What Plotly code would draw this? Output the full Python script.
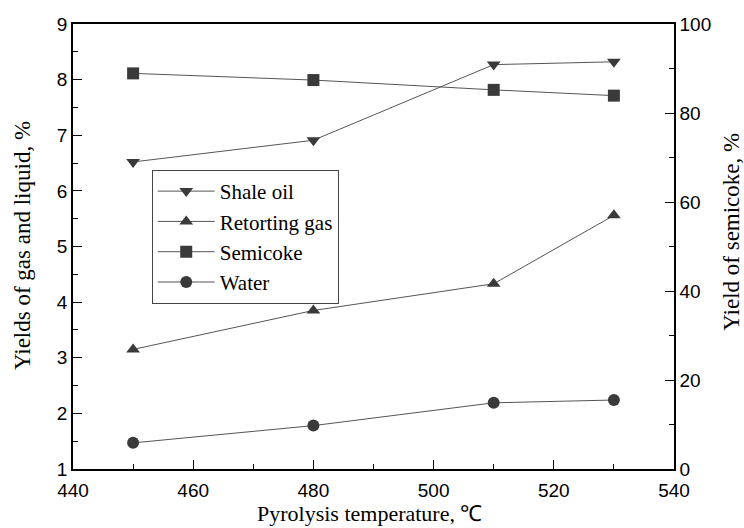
import plotly.graph_objects as go

temps = [450, 480, 510, 530]
shale_oil = [6.52, 6.91, 8.27, 8.32]
retorting_gas = [3.15, 3.85, 4.33, 5.56]
semicoke = [88.9, 87.4, 85.2, 83.9]
water = [1.47, 1.78, 2.19, 2.24]

x_title = "Pyrolysis temperature, ℃"
y_title = "Yields of gas and liquid, %"
y2_title = "Yield of semicoke, %"

line_col = "#555555"
mk_col = "#3a3a3a"
serif = "Liberation Serif, Times New Roman, serif"
sans = "Liberation Sans, Arial, sans-serif"

fig = go.Figure()
def add(name, y, sym, axis="y"):
    fig.add_trace(go.Scatter(
        x=temps, y=y, name=name, mode="lines+markers", yaxis=axis,
        line=dict(color=line_col, width=1),
        marker=dict(symbol=sym, size=12, color=mk_col, line=dict(width=0)),
    ))

add("Shale oil", shale_oil, "triangle-down")
add("Retorting gas", retorting_gas, "triangle-up")
add("Semicoke", semicoke, "square", "y2")
add("Water", water, "circle")

tickfont = dict(family=sans, size=19, color="black")
common = dict(
    ticks="inside", ticklen=9, tickwidth=1.2, tickcolor="black",
    showline=True, linecolor="black", linewidth=1.5,
    showgrid=False, zeroline=False, tickfont=tickfont, automargin=False,
)

fig.update_layout(
    width=744, height=528,
    margin=dict(l=73, r=70, t=24, b=59, autoexpand=False),
    paper_bgcolor="white", plot_bgcolor="white",
    showlegend=True,
    legend=dict(
        x=0.131, y=0.672, xanchor="left", yanchor="top",
        bordercolor="#444444", borderwidth=1, bgcolor="white",
        font=dict(family=serif, size=21, color="black"),
        tracegroupgap=0, itemwidth=57,
    ),
    xaxis=dict(
        range=[440, 540], dtick=20, tick0=440, mirror=True, ticklabelstandoff=3,
        minor=dict(dtick=10, ticks="inside", ticklen=5, tickcolor="black", tickwidth=1.2),
        **common,
    ),
    yaxis=dict(
        range=[1, 9], dtick=1, tick0=1,
        minor=dict(dtick=0.5, ticks="inside", ticklen=5, tickcolor="black", tickwidth=1.2),
        **common,
    ),
    yaxis2=dict(
        range=[0, 100], dtick=20, tick0=0, overlaying="y", side="right",
        minor=dict(dtick=10, ticks="inside", ticklen=5, tickcolor="black", tickwidth=1.2),
        **common,
    ),
    annotations=[
        dict(text=x_title, xref="paper", yref="paper", x=0.494, y=-0.1,
             xanchor="center", yanchor="middle", showarrow=False,
             font=dict(family=serif, size=22, color="black")),
        dict(text=y_title, xref="paper", yref="paper", x=-0.085, y=0.503,
             xanchor="center", yanchor="middle", textangle=-90, showarrow=False,
             font=dict(family=serif, size=23, color="black")),
        dict(text=y2_title, xref="paper", yref="paper", x=1.0965, y=0.533,
             xanchor="center", yanchor="middle", textangle=-90, showarrow=False,
             font=dict(family=serif, size=23, color="black")),
    ],
)

fig.write_html(
    "out.html",
    config={"displayModeBar": False},
    post_script="document.body.style.margin='0px';document.body.style.overflow='hidden';",
)
